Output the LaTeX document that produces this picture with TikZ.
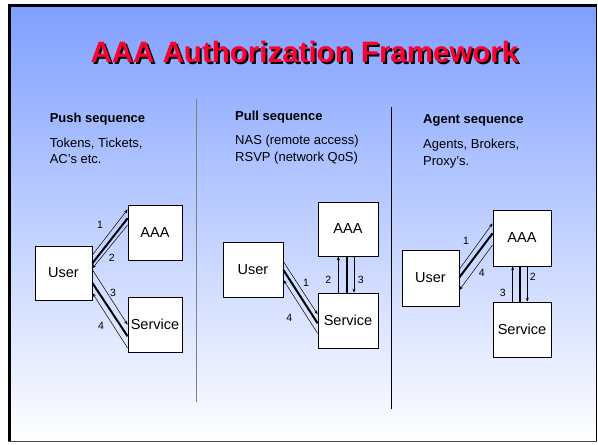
\documentclass[tikz,border=0pt]{standalone}
\usepackage{fontspec}
\setmainfont{Liberation Sans}
\usetikzlibrary{arrows.meta}
\definecolor{bgtop}{RGB}{128,160,255}
\definecolor{titlered}{RGB}{255,0,51}
\definecolor{sepgray}{RGB}{128,128,128}
\newcommand{\shadowtext}[1]{\makebox[0pt][l]{\hspace*{2pt}\raisebox{-2pt}{\textcolor{black}{#1}}}\textcolor{titlered}{#1}}
\begin{document}
\begin{tikzpicture}[x=1pt,y=1pt,
  box/.style={draw=black, line width=0.8pt, fill=white, inner sep=0pt, font=\fontsize{14.5}{17}\selectfont},
  thinarr/.style={line width=0.5pt, -{Stealth[length=4pt,width=3pt]}},
  thickln/.style={line width=2pt},
  num/.style={font=\fontsize{10.5}{12}\selectfont, inner sep=0pt},
  head/.style={font=\bfseries\fontsize{13}{16}\selectfont, anchor=base west, inner sep=0pt},
  body/.style={font=\fontsize{13}{16}\selectfont, anchor=base west, inner sep=0pt},
  ttl/.style={font=\bfseries\fontsize{29.5}{35}\selectfont, anchor=base, inner sep=0pt}]
\useasboundingbox (0,0) rectangle (598,445);
% background and frame
\shade[top color=bgtop, bottom color=white] (11,3) rectangle (596,438);
\fill[black] (8,2.5) rectangle (11,441);
\fill[black] (8,438) rectangle (596.5,441);
\draw[line width=1pt] (596,441) -- (596,2.5);
\draw[line width=1pt, black!70] (8,3) -- (596.5,3);
% title
\node[ttl] (title) at (304.5,382) {\shadowtext{AAA Authorization Framework}};
% separators
\draw[sepgray, line width=1.5pt] (196.7,346) -- (196.7,43);
\draw[black, line width=0.8pt] (391.3,338) -- (391.3,36);
% column texts
\node[head] (h1) at (49.6,322) {Push sequence};
\node[body] (t1a) at (49.6,297.5) {Tokens, Tickets,};
\node[body] (t1b) at (49.6,281) {AC’s etc.};
\node[head] (h2) at (235,324.3) {Pull sequence};
\node[body] (t2a) at (235,300) {NAS (remote access)};
\node[body] (t2b) at (235,283.6) {RSVP (network QoS)};
\node[head] (h3) at (423,321.8) {Agent sequence};
\node[body] (t3a) at (423,296) {Agents, Brokers,};
\node[body] (t3b) at (423,279.6) {Proxy’s.};
% push
\node[box, minimum width=57pt, minimum height=54pt] (u1) at (63.5,172) {User};
\node[box, minimum width=54pt, minimum height=55pt] (a1) at (155,212.5) {AAA};
\node[box, minimum width=54pt, minimum height=55pt] (s1) at (155,120.5) {Service};
\draw[thinarr] ([yshift=18pt]u1.east) -- ([yshift=23pt]a1.west);
\draw[thickln] ([yshift=9.7pt]u1.east) -- ([yshift=14.2pt]a1.west);
\draw[thinarr] ([yshift=7.5pt]a1.west) -- ([yshift=4.7pt]u1.east);
\draw[thinarr] ([yshift=3.3pt]u1.east) -- ([yshift=-0.2pt]s1.west);
\draw[thickln] ([yshift=-10pt]u1.east) -- ([yshift=-11.8pt]s1.west);
\draw[thinarr] ([yshift=-23.5pt]s1.west) -- ([yshift=-20pt]u1.east);
\node[num] (n11) at (100,220) {1};
\node[num] (n12) at (111.7,187) {2};
\node[num] (n13) at (113,152) {3};
\node[num] (n14) at (101,119.3) {4};
% pull
\node[box, minimum width=60pt, minimum height=55pt] (u2) at (253,175.5) {User};
\node[box, minimum width=60pt, minimum height=54pt] (a2) at (348,216) {AAA};
\node[box, minimum width=60pt, minimum height=55pt] (s2) at (348,124.5) {Service};
\draw[thinarr] ([yshift=7.8pt]u2.east) -- ([yshift=6.2pt]s2.west);
\draw[thickln] ([yshift=-0.5pt]u2.east) -- ([yshift=-2.8pt]s2.west);
\draw[thinarr] ([yshift=-12.8pt]s2.west) -- ([yshift=-10.5pt]u2.east);
\draw[thinarr] ([xshift=-9.7pt]s2.north) -- ([xshift=-9.7pt]a2.south);
\draw[thickln] ([xshift=-1.3pt]a2.south) -- ([xshift=-1.3pt]s2.north);
\draw[thinarr] ([xshift=6pt]a2.south) -- ([xshift=6pt]s2.north);
\node[num] (n21) at (306,161.7) {1};
\node[num] (n24) at (289.3,126.7) {4};
\node[num] (n22) at (328.3,165) {2};
\node[num] (n23) at (360.7,165) {3};
% agent
\node[box, minimum width=57pt, minimum height=56pt] (u3) at (430.5,167) {User};
\node[box, minimum width=58pt, minimum height=56pt] (a3) at (522,207) {AAA};
\node[box, minimum width=58pt, minimum height=55pt] (s3) at (522,115.5) {Service};
\draw[thinarr] ([yshift=8.7pt]u3.east) -- ([yshift=14.7pt]a3.west);
\draw[thickln] ([yshift=0.7pt]u3.east) -- ([yshift=4.7pt]a3.west);
\draw[thinarr] ([yshift=-7pt]a3.west) -- ([yshift=-12pt]u3.east);
\draw[thinarr] ([xshift=-9.3pt]s3.north) -- ([xshift=-9.3pt]a3.south);
\draw[thickln] ([xshift=-2pt]a3.south) -- ([xshift=-2pt]s3.north);
\draw[thinarr] ([xshift=5.3pt]a3.south) -- ([xshift=5.3pt]s3.north);
\node[num] (n31) at (466,204) {1};
\node[num] (n34) at (481.7,172.3) {4};
\node[num] (n33) at (502.7,151.7) {3};
\node[num] (n32) at (532.7,168.3) {2};
\end{tikzpicture}
\end{document}
